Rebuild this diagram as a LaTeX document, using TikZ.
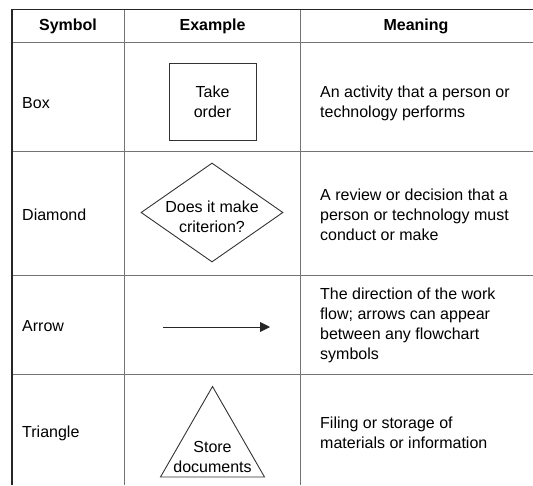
\documentclass[tikz,border=0pt]{standalone}
\usepackage{fontspec}
\setmainfont{Liberation Sans}
\usetikzlibrary{shapes.geometric,arrows.meta}
\begin{document}
\begin{tikzpicture}[x=1pt,y=-1pt,
  txt/.style={font=\fontsize{16}{20}\selectfont, inner sep=0pt, text=black},
  hdr/.style={font=\fontsize{16}{20}\selectfont\bfseries, inner sep=0pt, text=black},
  lbl/.style={txt, anchor=west},
  desc/.style={txt, anchor=west, align=left},
  outerline/.style={line width=1.4pt, black!85},
  innerline/.style={line width=1pt, black!55},
  shp/.style={draw=black!80, line width=0.9pt}]
\useasboundingbox (0,0) rectangle (533,485);
% table grid
\draw[innerline] (12,42) -- (533,42);
\draw[innerline] (12,151) -- (533,151);
\draw[innerline] (12,275) -- (533,275);
\draw[innerline] (12,374) -- (533,374);
\draw[innerline] (124.5,9.5) -- (124.5,485);
\draw[innerline] (300,9.5) -- (300,485);
\draw[outerline] (12,485) -- (12,9.5) -- (533,9.5);
% header
\node[hdr] (h1) at (68,26) {Symbol};
\node[hdr] (h2) at (212.5,26) {Example};
\node[hdr] (h3) at (416,26) {Meaning};
% column 1
\node[lbl] (c1) at (22,103) {Box};
\node[lbl] (c2) at (22,215) {Diamond};
\node[lbl] (c3) at (22,326) {Arrow};
\node[lbl] (c4) at (22,433) {Triangle};
% column 3
\node[desc] (d1) at (320,103) {An activity that a person or\\technology performs};
\node[desc] (d2) at (320,215) {A review or decision that a\\person or technology must\\conduct or make};
\node[desc] (d3) at (320,325) {The direction of the work\\flow; arrows can appear\\between any flowchart\\symbols};
\node[desc] (d4) at (320,433) {Filing or storage of\\materials or information};
% examples
\node[shp, txt, minimum width=87pt, minimum height=77pt, align=center] (box) at (212.5,101.5) {Take\\order};
\node[shp, diamond, aspect=1.43, minimum width=142pt, minimum height=99pt, inner sep=0pt] (dia) at (212,212.5) {};
\node[txt, align=center] (diatext) at (212,217) {Does it make\\criterion?};
\coordinate (a1) at (163,327);
\coordinate (a2) at (270,327);
\draw[line width=0.9pt, black!85, -{Triangle[length=10pt,width=10pt]}] (a1) -- (a2);
\coordinate (t1) at (212.5,386.5);
\coordinate (t2) at (264.5,477);
\coordinate (t3) at (160.5,477);
\draw[shp] (t1) -- (t2) -- (t3) -- cycle;
\node[txt, align=center] (tri) at (212.5,457) {Store\\documents};
\end{tikzpicture}
\end{document}
